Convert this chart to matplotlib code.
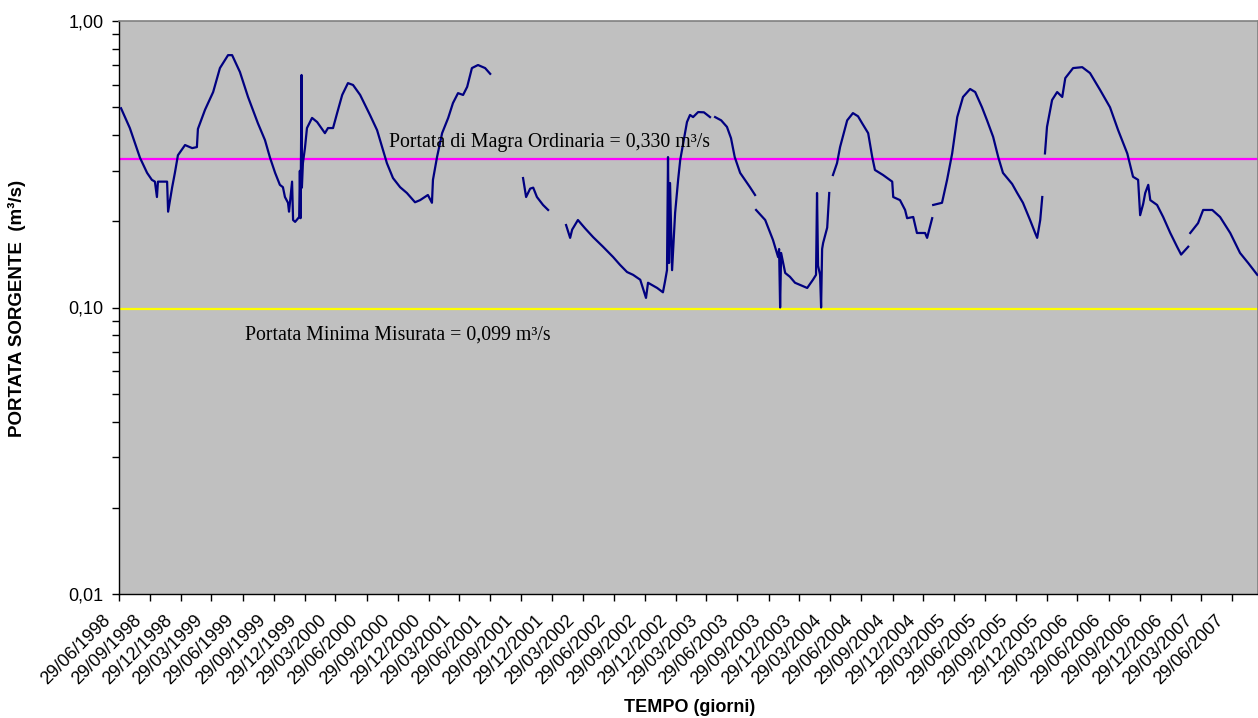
import numpy as np
import pandas as pd
import matplotlib
matplotlib.use("Agg")
import matplotlib.pyplot as plt
import matplotlib.dates as mdates
import matplotlib.transforms as mtransforms
from matplotlib.ticker import FixedLocator, LogLocator, NullFormatter

plt.close('all')

# giorni dall'inizio delle misure (29/06/1998) e portata della sorgente in m3/s
# None = giorni senza misura (interruzione della serie)
giorni = [
    6, 32, 62, 83, 97, 106, 112, 115, 142, 145, 157, 165, 174, 195, 216, 230,
    233, 254, 278, 298, 322, 334, 357, 381, 410, 431, 446, 461, 475, 484, 490,
    499, 502, 511, 514, 520, 532, 534, 536, 539, 540, 543, 549, 555, 570, 585,
    608, 617, 632, 644, 659, 676, 691, 712, 741, 762, 777, 791, 809, 830, 850,
    874, 889, 912, 924, 927, 939, 954, 972, 986, 1001, 1016, 1028, 1042, 1060,
    1081, 1096,
    None,
    1193, 1202, 1214, 1223, 1234, 1252, 1267,
    None,
    1320, 1332, 1338, 1355, 1376, 1400, 1429, 1459, 1479, 1500, 1518, 1539,
    1556, 1562, 1589, 1606, 1612, 1618, 1621, 1624, 1627, 1633, 1642, 1651,
    1657, 1666, 1677, 1686, 1695, 1710, 1727, 1745,
    None,
    1760, 1778, 1795, 1807, 1818, 1834, 1863, 1878,
    None,
    1881, 1908, 1931, 1946, 1949, 1952, 1955, 1967, 1981, 1996, 2032, 2049,
    2058, 2061, 2064, 2070, 2073, 2076, 2079, 2091, 2097,
    None,
    2108, 2120, 2129, 2150, 2167, 2182, 2194, 2212, 2224, 2232, 2256, 2283,
    2286, 2306, 2321, 2327, 2345, 2356, 2380, 2386, 2401,
    None,
    2404, 2430, 2445, 2460, 2475, 2492, 2513, 2528, 2548, 2563, 2581, 2596,
    2610, 2637, 2652, 2669, 2690, 2705, 2711, 2720, 2726,
    None,
    2734, 2740, 2755, 2770, 2785, 2794, 2817, 2844, 2867, 2897, 2926, 2950,
    2977, 2994, 3009, 3015, 3024, 3030, 3039, 3045, 3065, 3083, 3104, 3124,
    3136, 3157,
    None,
    3163, 3186, 3201, 3228, 3251, 3281, 3310, 3334, 3361,
]
portata = [
    0.496, 0.423, 0.333, 0.295, 0.279, 0.275, 0.243, 0.275, 0.275, 0.216, 0.263,
    0.295, 0.340, 0.369, 0.360, 0.363, 0.420, 0.490, 0.565, 0.685, 0.760, 0.760,
    0.664, 0.543, 0.440, 0.384, 0.333, 0.295, 0.268, 0.263, 0.243,
    0.232, 0.216, 0.275, 0.202, 0.199, 0.207, 0.300, 0.205, 0.648, 0.262, 0.319,
    0.360, 0.423, 0.459, 0.444, 0.406, 0.423, 0.423, 0.477, 0.552, 0.607, 0.598,
    0.552, 0.470, 0.416, 0.363, 0.319, 0.283, 0.263, 0.251, 0.233, 0.237, 0.247,
    0.232, 0.279, 0.335, 0.406, 0.459, 0.517, 0.560, 0.552, 0.589, 0.685, 0.702,
    0.685, 0.654,
    None,
    0.283, 0.243, 0.260, 0.262, 0.243, 0.228, 0.219,
    None,
    0.194, 0.175, 0.187, 0.202, 0.189, 0.176, 0.163, 0.150, 0.141, 0.133, 0.130,
    0.125, 0.108, 0.122, 0.117, 0.113, 0.123, 0.135, 0.335, 0.143, 0.272, 0.135,
    0.214, 0.280, 0.327, 0.375, 0.444, 0.470, 0.462, 0.481, 0.480, 0.462,
    None,
    0.462, 0.450, 0.427, 0.390, 0.335, 0.295, 0.263, 0.247,
    None,
    0.219, 0.202, 0.172, 0.150, 0.160, 0.100, 0.155, 0.132, 0.128, 0.122, 0.117,
    0.125, 0.130, 0.251, 0.140, 0.130, 0.100, 0.160, 0.168, 0.190, 0.251,
    None,
    0.290, 0.319, 0.363, 0.450, 0.477, 0.465, 0.440, 0.406, 0.335, 0.302, 0.290,
    0.275, 0.243, 0.237, 0.219, 0.205, 0.207, 0.182, 0.182, 0.175, 0.205,
    None,
    0.228, 0.232, 0.279, 0.345, 0.462, 0.543, 0.579, 0.565, 0.500, 0.450, 0.394,
    0.335, 0.295, 0.270, 0.251, 0.232, 0.202, 0.182, 0.175, 0.202, 0.243,
    None,
    0.345, 0.427, 0.530, 0.565, 0.543, 0.632, 0.685, 0.690, 0.658, 0.574, 0.500,
    0.416, 0.345, 0.286, 0.279, 0.210, 0.230, 0.251, 0.268, 0.237, 0.228, 0.207,
    0.182, 0.163, 0.153, 0.163,
    None,
    0.182, 0.197, 0.219, 0.219, 0.207, 0.182, 0.155, 0.143, 0.130,
]

inizio = pd.Timestamp("1998-06-29")
fine_giorni = 3363
magra_ordinaria = 0.330
minima_misurata = 0.099

# date vere per la serie; i buchi diventano NaN cosi' la linea si interrompe
date = []
valori = []
for g, q in zip(giorni, portata):
    if g is None:
        date.append(date[-1] + pd.Timedelta(days=1))
        valori.append(np.nan)
    else:
        date.append(inizio + pd.Timedelta(days=g))
        valori.append(q)

# tacche ogni 3 mesi a partire dal 29/06/1998
tacche = [inizio + pd.DateOffset(months=3 * i) for i in range(37)]

fig = plt.figure(figsize=(12.58, 7.18), dpi=100)
ax = fig.add_axes([119 / 1258, 1 - 594 / 718, 1 - 119 / 1258, (594 - 21) / 718])
ax.set_facecolor("#C0C0C0")

ax.plot(date, valori, color="#000080", lw=1.6, zorder=3)
ax.axhline(magra_ordinaria, color="#FF00FF", lw=1.6, zorder=2)
ax.axhline(minima_misurata, color="#FFFF00", lw=1.6, zorder=2)

ax.text(inizio + pd.Timedelta(days=797), 0.378,
        "Portata di Magra Ordinaria = 0,330 m\u00b3/s",
        family="Liberation Serif", fontsize=14.3, va="center", ha="left", zorder=4)
ax.text(inizio + pd.Timedelta(days=372), 0.0802,
        "Portata Minima Misurata = 0,099 m\u00b3/s",
        family="Liberation Serif", fontsize=14.3, va="center", ha="left", zorder=4)

# asse y logaritmico 0,01 - 1,00
ax.set_yscale("log")
ax.set_ylim(0.01, 1.0)
ax.yaxis.set_major_locator(FixedLocator([0.01, 0.1, 1.0]))
ax.yaxis.set_minor_locator(LogLocator(base=10, subs=np.arange(2, 10)))
ax.yaxis.set_minor_formatter(NullFormatter())
ax.set_yticklabels(["0,01", "0,10", "1,00"])

# asse x con le date
ax.set_xlim(inizio, inizio + pd.Timedelta(days=fine_giorni))
ax.set_xticks(tacche)
ax.xaxis.set_major_formatter(mdates.DateFormatter("%d/%m/%Y"))

ax.tick_params(axis="both", which="both", direction="out", color="black",
               labelsize=13, labelfontfamily="Liberation Sans")
ax.tick_params(axis="y", which="major", length=5, width=1, pad=6)
ax.tick_params(axis="y", which="minor", length=5, width=1)
ax.tick_params(axis="x", which="major", length=5, width=1, pad=8)

# etichette delle date inclinate, leggermente a sinistra della tacca
sposta = mtransforms.ScaledTranslation(-5 / 100, 0, fig.dpi_scale_trans)
for lab in ax.get_xticklabels():
    lab.set_rotation(45)
    lab.set_ha("right")
    lab.set_transform(lab.get_transform() + sposta)

for lato in ["top", "right"]:
    ax.spines[lato].set_color("#808080")
    ax.spines[lato].set_linewidth(1.2)
for lato in ["left", "bottom"]:
    ax.spines[lato].set_color("black")
    ax.spines[lato].set_linewidth(1.0)

fig.text(17 / 1258, 1 - 308 / 718, "PORTATA SORGENTE  (m\u00b3/s)", rotation=90,
         ha="center", va="center", fontsize=13.5, fontweight="bold",
         family="Liberation Sans")
fig.text(690 / 1258, 1 - 708 / 718, "TEMPO (giorni)", ha="center", va="center",
         fontsize=13, fontweight="bold", family="Liberation Sans")

fig.savefig("out.png", dpi=100, facecolor="white")
